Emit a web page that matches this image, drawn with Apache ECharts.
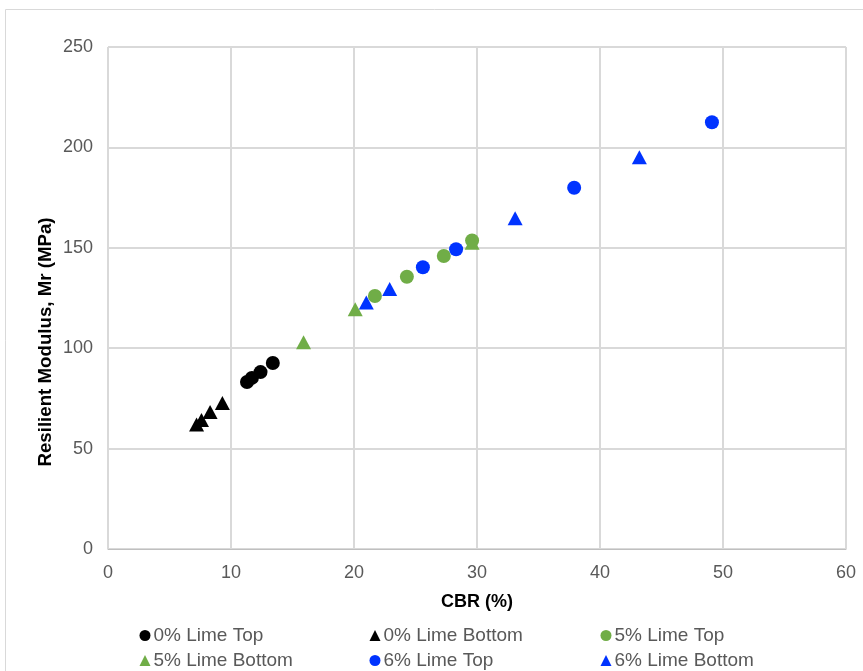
<!DOCTYPE html>
<html><head><meta charset="utf-8">
<script src="https://cdn.jsdelivr.net/npm/echarts@6/dist/echarts.min.js"></script>
<style>html,body{margin:0;padding:0;background:#fff}#c{width:863px;height:671px}</style>
</head><body><div id="c"></div>
<script>
const seriesNames = ['0% Lime Top','0% Lime Bottom','5% Lime Top','5% Lime Bottom','6% Lime Top','6% Lime Bottom'];
const lime0Top = [[11.3,83.2],[11.7,85.2],[12.4,88.1],[13.4,92.6]];
const lime0Bottom = [[7.2,62],[7.6,64.2],[8.3,68.2],[9.3,72.7]];
const lime5Top = [[21.7,126],[24.3,135.6],[27.3,145.9],[29.6,153.6]];
const lime5Bottom = [[15.9,103],[20.1,119.4],[29.6,152.5]];
const lime6Top = [[25.6,140.3],[28.3,149.3],[37.9,179.9],[49.1,212.5]];
const lime6Bottom = [[21.0,122.7],[22.9,129.5],[33.1,164.7],[43.2,195.1]];
const xTicks = [0,10,20,30,40,50,60];
const yTicks = [0,50,100,150,200,250];
const xTitle = 'CBR (%)';
const yTitle = 'Resilient Modulus, Mr (MPa)';

const datasets = [lime0Top, lime0Bottom, lime5Top, lime5Bottom, lime6Top, lime6Bottom];
const colors = ['#000000','#000000','#70ad47','#70ad47','#0033ff','#0033ff'];
const symbols = ['circle','triangle','circle','triangle','circle','triangle'];
const font = '"Liberation Sans", Arial, sans-serif';

const legendPos = [[139.5,626],[369.5,626],[600.5,626],[139.5,651],[369.5,651],[600.5,651]];

const chart = echarts.init(document.getElementById('c'), null, {renderer:'canvas'});
chart.setOption({
  animation:false,
  graphic:[
    {type:'rect', shape:{x:5.5,y:9.5,width:900,height:800}, style:{fill:'none',stroke:'#d9d9d9',lineWidth:1}, z:-1},
    {type:'text', x:46, y:342, rotation:Math.PI/2,
     style:{text:yTitle, fill:'#000', font:'bold 18.7px '+font, align:'center', verticalAlign:'middle'}}
  ],
  grid:{left:108,right:17,top:47,bottom:122,containLabel:false},
  xAxis:{type:'value',min:0,max:60,interval:10,
    name:xTitle,nameLocation:'middle',nameGap:44,
    nameTextStyle:{color:'#000',fontWeight:'bold',fontSize:18,fontFamily:font},
    axisLine:{show:true,lineStyle:{color:'#bfbfbf'}},axisTick:{show:false},
    axisLabel:{color:'#595959',fontSize:18,fontFamily:font,margin:15,formatter:v=>xTicks.includes(v)?String(v):''},
    splitLine:{show:true,lineStyle:{color:'#d9d9d9',width:2}}},
  yAxis:{type:'value',min:0,max:250,interval:50,
    axisLine:{show:false},axisTick:{show:false},
    axisLabel:{color:'#595959',fontSize:18,fontFamily:font,margin:15,formatter:v=>yTicks.includes(v)?String(v):''},
    splitLine:{show:true,lineStyle:{color:'#d9d9d9',width:2}}},
  legend: seriesNames.map((n,i)=>({
    data:[{name:n,icon:symbols[i]}],left:legendPos[i][0],top:legendPos[i][1],
    itemWidth:11,itemHeight:11,itemGap:2,padding:0,
    textStyle:{color:'#595959',fontSize:19,fontFamily:font,padding:[0,0,0,-2]}
  })),
  series: seriesNames.map((n,i)=>({
    name:n,type:'scatter',data:datasets[i],symbol:symbols[i],
    symbolSize: symbols[i]==='circle'?14:[15,14],
    itemStyle:{color:colors[i],opacity:1},z:3
  }))
});
</script></body></html>
